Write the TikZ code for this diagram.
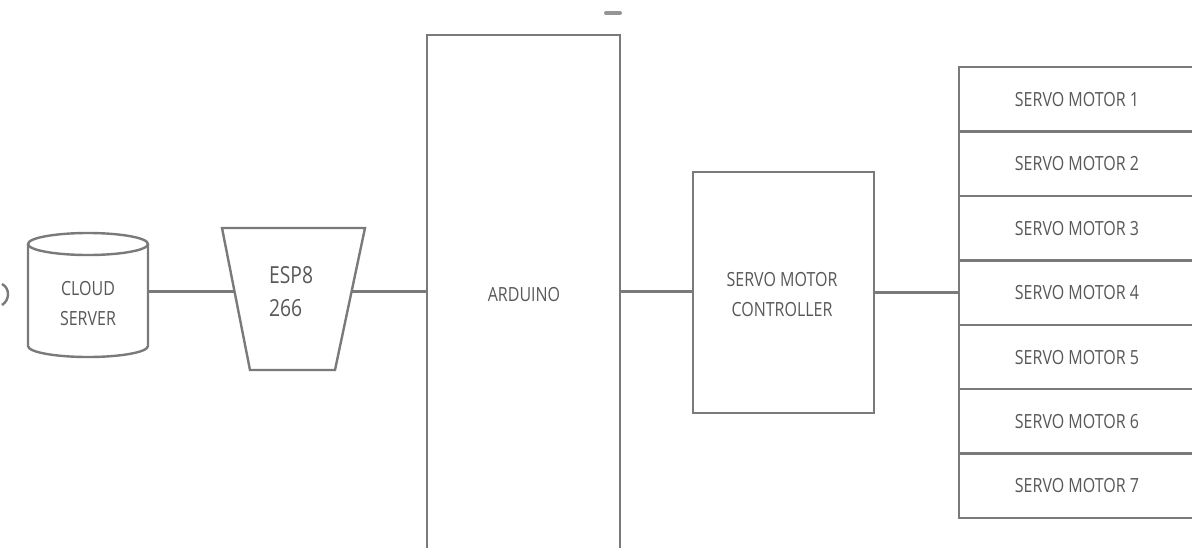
\documentclass[tikz,border=0pt]{standalone}
\usepackage{fontspec}
\setmainfont{Open Sans}[FakeStretch=0.82]
\usetikzlibrary{positioning}
\definecolor{ln}{HTML}{7A7A7A}
\definecolor{tx}{HTML}{585858}
\begin{document}
\begin{tikzpicture}[x=1pt,y=-1pt,
  every node/.style={text=tx,font=\fontsize{19.5}{30}\selectfont,inner sep=0pt},
  shp/.style={draw=ln,line width=2.4pt},
  lnk/.style={draw=ln,line width=2.4pt},
  rowbox/.style={draw=ln,line width=2.4pt,fill=white,minimum width=240pt,minimum height=64.4pt,anchor=north west}]
\useasboundingbox (0,0) rectangle (1192,547);
\begin{scope}
\clip (0,0) rectangle (1192,547);
% partial arc at left edge
\draw[shp] (2,284) .. controls (10,288) and (10,300) .. (2,305);
% small mark at top
\draw[ln!80,line width=4pt,line cap=round] (606,13) -- (620,13);
% cloud server cylinder
\draw[shp,fill=white] (28,244) -- (28,346) arc[start angle=180,end angle=0,x radius=60,y radius=11] -- (148,244);
\draw[shp] (88,244) ellipse[x radius=60,y radius=11];
\node (cloud) at (88,289) {CLOUD};
\node (cloud2) at (88,319) {SERVER};
\coordinate (cloudE) at (148,291.4);
% ESP8266 trapezium
\draw[shp] (222,228) -- (365,228) -- (335,370) -- (250,370) -- cycle;
\node[anchor=west,font=\fontsize{23.5}{30}\selectfont] (esp) at (269,275) {ESP8};
\node[anchor=west,font=\fontsize{23.5}{30}\selectfont] (esp2) at (269,308) {266};
\coordinate (espW) at (234.5,291.4);
\coordinate (espE) at (351.7,291.4);
% Arduino
\draw[shp] (427,560) -- (427,35) -- (620,35) -- (620,560);
\node (ard) at (524,295) {ARDUINO};
\coordinate (ardW) at (427,291.4);
\coordinate (ardE) at (620,291.4);
% controller
\node[draw=ln,line width=2.4pt,minimum width=181pt,minimum height=241pt,anchor=north west] (ctl) at (692,171) {};
\node (ctltxt) at (782,280) {SERVO MOTOR};
\node (ctltxt2) at (782,310) {CONTROLLER};
% servo stack
\foreach \i in {1,...,7}{
  \node[rowbox] (s\i) at (958,{66+64.4*(\i-1)}) {};
  \node (t\i) at (1077,{66+64.4*(\i-1)+33.5}) {SERVO MOTOR \i};
}
% connectors
\draw[lnk] (cloudE) -- (espW);
\draw[lnk] (espE) -- (ardW);
\draw[lnk] (ardE) -- (ctl.west |- ardE);
\draw[lnk] (ctl.east |- s4.west) -- (s4.west);
\end{scope}
\end{tikzpicture}
\end{document}
